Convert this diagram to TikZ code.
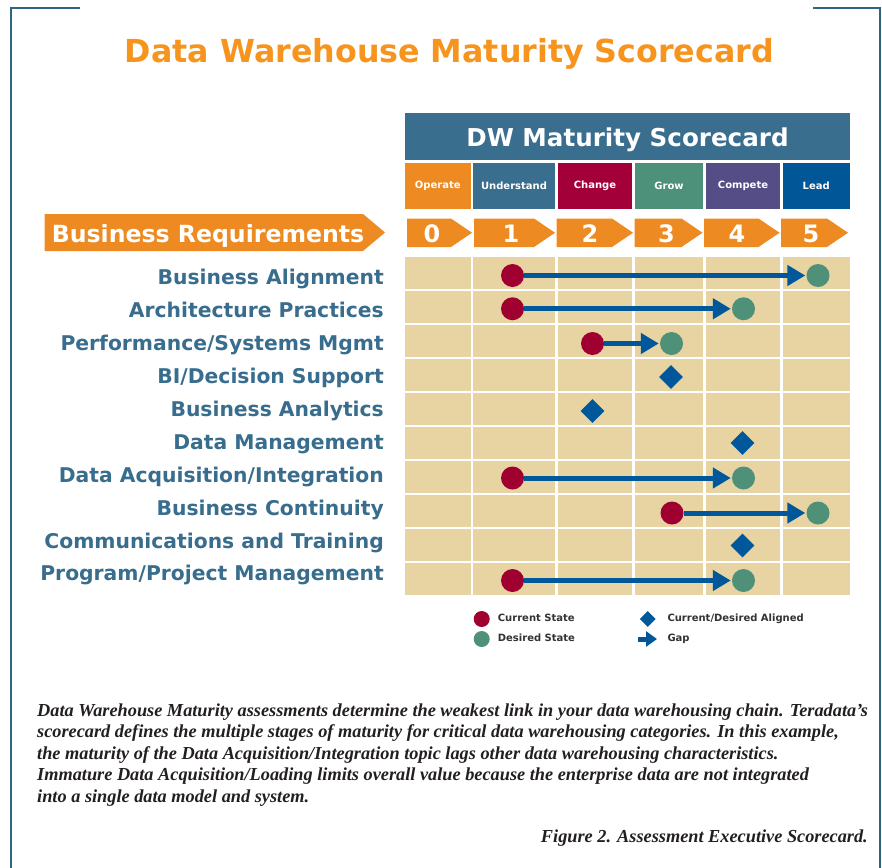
\documentclass[tikz,border=0pt]{standalone}
\usepackage{fontspec}
\setmainfont{DejaVu Sans}
\newfontfamily\capfont{Liberation Serif}
\usetikzlibrary{shapes.geometric,arrows.meta}

\definecolor{frameblue}{HTML}{2E6583}
\definecolor{titleorange}{HTML}{F7941D}
\definecolor{stepblue}{HTML}{3A6E8F}
\definecolor{arroworange}{HTML}{EE8A22}
\definecolor{chgred}{HTML}{A3003A}
\definecolor{growgreen}{HTML}{4E917A}
\definecolor{cmppurple}{HTML}{544D86}
\definecolor{leadblue}{HTML}{005696}
\definecolor{celltan}{HTML}{E8D3A2}
\definecolor{curred}{HTML}{A00030}
\definecolor{desgreen}{HTML}{4F9178}
\definecolor{gapblue}{HTML}{00589A}
\definecolor{labelblue}{HTML}{386D8E}
\definecolor{legendgray}{HTML}{333333}
\definecolor{bodyink}{HTML}{231F20}

\begin{document}
\begin{tikzpicture}[x=1pt,y=-1pt,
  framestroke/.style={draw=frameblue,line width=2pt},
  stagebox/.style={inner sep=0pt,minimum height=46pt,text=white,
    font=\bfseries\fontsize{10}{12}\selectfont},
  chevron/.style={fill=arroworange},
  stepnum/.style={inner sep=0pt,anchor=base,text=white,
    font=\bfseries\fontsize{24}{28}\selectfont},
  rowlabel/.style={inner sep=0pt,anchor=base east,text=labelblue,
    font=\bfseries\fontsize{20.3}{24}\selectfont},
  cell/.style={fill=celltan},
  current/.style={circle,fill=curred,inner sep=0pt,minimum size=23pt},
  desired/.style={circle,fill=desgreen,inner sep=0pt,minimum size=23pt},
  aligned/.style={diamond,fill=gapblue,inner sep=0pt,minimum width=24pt,minimum height=24pt},
  gap/.style={draw=gapblue,line width=5pt,-{Triangle[length=18pt,width=20pt]},shorten >=1pt},
  legendtext/.style={inner sep=0pt,anchor=mid west,text=legendgray,
    font=\bfseries\fontsize{10}{12}\selectfont},
  bodytext/.style={text=bodyink,
    font=\capfont\bfseries\itshape\fontsize{18.3}{21.6}\selectfont}]

\useasboundingbox (0,0) rectangle (882,867);
\fill[white] (0,0) rectangle (882,867);

% corner frame
\draw[framestroke] (80,8) -- (11,8) -- (11,868);
\draw[framestroke] (813,8) -- (880,8) -- (880,868);

% title
\node[inner sep=0pt,anchor=base,text=titleorange,
  font=\bfseries\fontsize{31.7}{36}\selectfont] (title) at (449.5,63)
  {Data Warehouse Maturity Scorecard};

% scorecard header
\node[fill=stepblue,inner sep=0pt,minimum width=445pt,minimum height=47pt,
  anchor=north west] (hdr) at (405,113) {};
\node[inner sep=0pt,anchor=base,text=white,
  font=\bfseries\fontsize{24.6}{28}\selectfont] (hdrtext) at (627.5,146)
  {DW Maturity Scorecard};

% maturity stages
\node[stagebox,fill=arroworange,minimum width=65.5pt] (st0) at (437.75,186) {Operate};
\node[stagebox,fill=stepblue,minimum width=82pt] (st1) at (514,186) {Understand};
\node[stagebox,fill=chgred,minimum width=74pt] (st2) at (595,186) {Change};
\node[stagebox,fill=growgreen,minimum width=68pt] (st3) at (669,186) {Grow};
\node[stagebox,fill=cmppurple,minimum width=74pt] (st4) at (743,186) {Compete};
\node[stagebox,fill=leadblue,minimum width=67.5pt] (st5) at (816.25,186) {Lead};

% numbered chevrons
\foreach \l/\t in {407/472, 474/555, 556.5/633, 634.5/702.5, 704/779.5, 781/848}{
  \fill[chevron] (\l,218.5) -- (\t-21,218.5) -- (\t,232.75) -- (\t-21,247) -- (\l,247) -- cycle;
}
\node[stepnum] (n0) at (432,242.5) {0};
\node[stepnum] (n1) at (511,242.5) {1};
\node[stepnum] (n2) at (590,242.5) {2};
\node[stepnum] (n3) at (666.5,242.5) {3};
\node[stepnum] (n4) at (737,242.5) {4};
\node[stepnum] (n5) at (811,242.5) {5};

% business requirements banner
\fill[chevron] (44.5,214) -- (363,214) -- (385,232.5) -- (363,251) -- (44.5,251) -- cycle;
\node[inner sep=0pt,anchor=base west,text=white,
  font=\bfseries\fontsize{23.6}{28}\selectfont] (breq) at (51.7,242.3)
  {Business Requirements};

% score grid
\foreach \r in {0,...,9}{
  \foreach \l/\rr in {405/470.5, 473/555, 558/632, 635/703, 706/780, 782.5/850}{
    \fill[cell] (\l,257+34*\r) rectangle (\rr,288.5+34*\r);
  }
}

% category labels
\node[rowlabel] (lab1) at (384,284.5) {Business Alignment};
\node[rowlabel] (lab2) at (384,317.44) {Architecture Practices};
\node[rowlabel] (lab3) at (384,350.38) {Performance/Systems Mgmt};
\node[rowlabel] (lab4) at (384,383.32) {BI/Decision Support};
\node[rowlabel] (lab5) at (384,416.26) {Business Analytics};
\node[rowlabel] (lab6) at (384,449.2) {Data Management};
\node[rowlabel] (lab7) at (384,482.14) {Data Acquisition/Integration};
\node[rowlabel] (lab8) at (384,515.08) {Business Continuity};
\node[rowlabel] (lab9) at (384,548.02) {Communications and Training};
\node[rowlabel] (lab10) at (384,580.96) {Program/Project Management};

% current and desired states
\node[current] (cur1) at (512.5,275.5) {};
\node[desired] (des1) at (818,275.5) {};
\draw[gap] (cur1) -- (des1);

\node[current] (cur2) at (512.5,308.75) {};
\node[desired] (des2) at (743.5,308.75) {};
\draw[gap] (cur2) -- (des2);

\node[current] (cur3) at (592.5,343.5) {};
\node[desired] (des3) at (671.5,343.5) {};
\draw[gap] (cur3) -- (des3);

\node[aligned] (al4) at (671,377) {};
\node[aligned] (al5) at (592.5,411) {};
\node[aligned] (al6) at (742.5,443) {};

\node[current] (cur7) at (512.5,478) {};
\node[desired] (des7) at (743.5,478) {};
\draw[gap] (cur7) -- (des7);

\node[current] (cur8) at (672,513) {};
\node[desired] (des8) at (818,513) {};
\draw[gap] (cur8) -- (des8);

\node[aligned] (al9) at (742.5,545.5) {};

\node[current] (cur10) at (512.5,580.5) {};
\node[desired] (des10) at (743.5,580.5) {};
\draw[gap] (cur10) -- (des10);

% legend
\node[circle,fill=curred,inner sep=0pt,minimum size=16pt] (lgcur) at (481.7,619) {};
\node[circle,fill=desgreen,inner sep=0pt,minimum size=16pt] (lgdes) at (481.7,639) {};
\node[legendtext] (lgcurtxt) at (497.7,619) {Current State};
\node[legendtext] (lgdestxt) at (497.7,639) {Desired State};
\node[diamond,fill=gapblue,inner sep=0pt,minimum width=16pt,minimum height=16pt] (lgal) at (647.7,619) {};
\node[legendtext] (lgaltxt) at (667.3,619) {Current/Desired Aligned};
\coordinate (lggapa) at (638.3,639);
\coordinate (lggapb) at (657,639);
\draw[draw=gapblue,line width=5pt,-{Triangle[length=11pt,width=15pt]}] (lggapa) -- (lggapb);
\node[legendtext] (lggaptxt) at (667.3,639) {Gap};

% description
\node[inner sep=0pt,anchor=base west,bodytext] (desc) at (37,716)
  {\parbox[t]{845pt}{\raggedright
  Data Warehouse Maturity assessments determine the weakest link in your data warehousing chain. Teradata’s\\
  scorecard defines the multiple stages of maturity for critical data warehousing categories. In this example,\\
  the maturity of the Data Acquisition/Integration topic lags other data warehousing characteristics.\\
  Immature Data Acquisition/Loading limits overall value because the enterprise data are not integrated\\
  into a single data model and system.}};

\node[inner sep=0pt,anchor=base east,bodytext] (figcap) at (868,842)
  {Figure 2. Assessment Executive Scorecard.};

\end{tikzpicture}
\end{document}
